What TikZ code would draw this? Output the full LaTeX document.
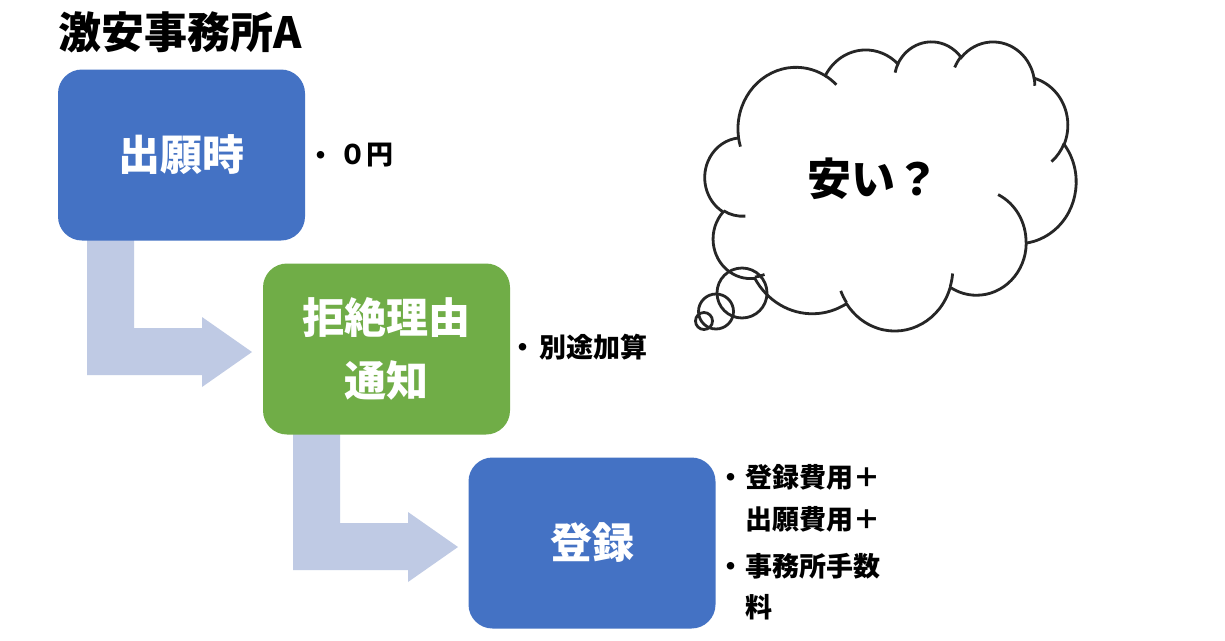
\documentclass[tikz,border=0pt]{standalone}
\usepackage{fontspec}
\newfontfamily\jp{Noto Sans CJK JP}
\definecolor{boxblue}{HTML}{4472C4}
\definecolor{boxgreen}{HTML}{70AD47}
\definecolor{arrowfill}{HTML}{BFCAE4}
\definecolor{inkgray}{HTML}{262626}
\begin{document}
\begin{tikzpicture}[x=1pt,y=-1pt,
  stepbox/.style={rounded corners=24pt, minimum width=247pt, minimum height=171pt, inner sep=0pt, text=white, align=center, font=\jp\bfseries\fontsize{42}{63}\selectfont},
  note/.style={anchor=west, inner sep=0pt, font=\jp\bfseries\fontsize{27}{30}\selectfont, text=black},
  bulletdot/.style={inner sep=0pt, font=\jp\bfseries\fontsize{27}{30}\selectfont, text=black},
  bentarrow/.style={fill=arrowfill, draw=none},
  cloudline/.style={draw=inkgray, line width=2.8pt},
  titletext/.style={anchor=west, inner sep=0pt, font=\jp\bfseries\fontsize{43}{48}\selectfont, text=black},
]
\useasboundingbox (0,0) rectangle (1225,640);
\fill[white] (0,0) rectangle (1225,640);

% bent arrows
\fill[bentarrow] (87,238) -- (134,238) -- (134,328) -- (202,328) -- (202,317) -- (252,352)
  -- (202,387) -- (202,375) -- (87,375) -- cycle;
\fill[bentarrow] (293,432) -- (340,432) -- (340,523) -- (408,523) -- (408,512) -- (458,547)
  -- (408,582) -- (408,570) -- (293,570) -- cycle;

% title
\node[titletext] (title) at (58,32) {激安事務所A};

% boxes
\node[stepbox, fill=boxblue] (b1) at (181.5,155) {出願時};
\node[stepbox, fill=boxgreen] (b2) at (386.5,349) {拒絶理由\\通知};
\node[stepbox, fill=boxblue] (b3) at (592,543) {登録};

% notes
\node[bulletdot] (d1) at (321,158) {・};
\node[note] (n1) at (339,155) {０円};
\node[bulletdot] (d2) at (523,350) {・};
\node[note] (n2) at (539,347) {別途加算};
\node[bulletdot] (d3) at (731,480) {・};
\node[note] (n3) at (745,477) {登録費用＋};
\node[note] (n4) at (745,519) {出願費用＋};
\node[bulletdot] (d4) at (731,569) {・};
\node[note] (n5) at (745,566) {事務所手数};
\node[note] (n6) at (745,607) {料};

% cloud
\filldraw[cloudline, fill=white] (738.5,137.1)
  arc[start angle=187.75, delta angle=-128.11, x radius=58.0pt, y radius=61.5pt]
  arc[start angle=152.02, delta angle=-106.57, x radius=45.8pt, y radius=48.6pt]
  arc[start angle=153.49, delta angle=-116.16, x radius=37.5pt, y radius=39.8pt]
  arc[start angle=139.72, delta angle=-129.51, x radius=41.7pt, y radius=44.1pt]
  arc[start angle=74.77, delta angle=-97.98, x radius=45.8pt, y radius=48.7pt]
  arc[start angle=37.53, delta angle=-119.39, x radius=58.2pt, y radius=61.7pt]
  arc[start angle=-0.46, delta angle=-121.51, x radius=49.7pt, y radius=52.6pt]
  arc[start angle=-16.84, delta angle=-129.38, x radius=58.0pt, y radius=61.6pt]
  arc[start angle=-58.98, delta angle=-91.21, x radius=66.3pt, y radius=70.5pt]
  arc[start angle=276.69, delta angle=-139.79, x radius=37.4pt, y radius=39.6pt]
  arc[start angle=239.65, delta angle=-143.76, x radius=37.3pt, y radius=39.8pt]
  -- cycle;
% inner arcs of the cloud
\draw[cloudline] (745.3,216.1) arc[start angle=-85.55, delta angle=-34.8, x radius=37.3pt, y radius=39.8pt];
\draw[cloudline] (764.5,274.5) arc[start angle=-68.23, delta angle=-15.08, x radius=37.4pt, y radius=39.6pt];
\draw[cloudline] (846.5,302.5) arc[start angle=-146.22, delta angle=-12.26, x radius=58.0pt, y radius=61.6pt];
\draw[cloudline] (952.6,273.5) arc[start angle=-4.74, delta angle=-12.1, x radius=58.0pt, y radius=61.6pt];
\draw[cloudline] (998.1,194.6) arc[start angle=64.03, delta angle=-64.49, x radius=49.7pt, y radius=52.6pt];
\draw[cloudline] (1064.0,143.7) arc[start angle=-23.21, delta angle=-26.43, x radius=45.8pt, y radius=48.7pt];
\draw[cloudline] (1034.1,77.3) arc[start angle=10.21, delta angle=-11.03, x radius=41.7pt, y radius=44.1pt];
\draw[cloudline] (954.7,67.4) arc[start angle=156.29, delta angle=-16.57, x radius=41.7pt, y radius=44.1pt];
\draw[cloudline] (895.1,72.6) arc[start angle=167.72, delta angle=-14.23, x radius=37.5pt, y radius=39.8pt];
\draw[cloudline] (825.2,75.7) arc[start angle=59.64, delta angle=-13.9, x radius=58.0pt, y radius=61.5pt];
\draw[cloudline] (740.4,146.6) arc[start angle=-163.19, delta angle=-9.06, x radius=58.0pt, y radius=61.5pt];
% thought bubbles
\draw[cloudline] (742,293) circle[radius=25pt];
\draw[cloudline] (716,311.5) circle[radius=17.5pt];
\draw[cloudline] (704,321) circle[radius=8.5pt];

\node[inner sep=0pt, font=\jp\bfseries\fontsize{44}{48}\selectfont] (q) at (873,179) {安い？};
\end{tikzpicture}
\end{document}
